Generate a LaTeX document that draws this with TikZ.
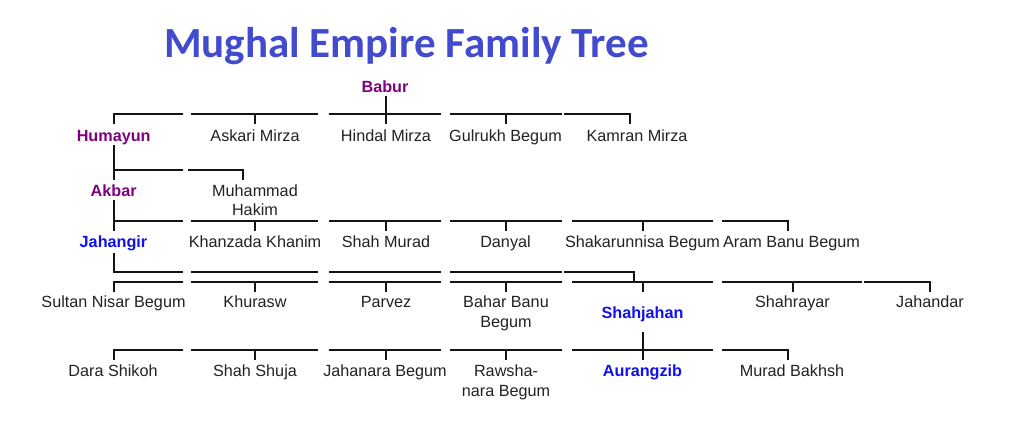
\documentclass[tikz,border=0pt]{standalone}
\usepackage{fontspec}
\setmainfont{Liberation Sans}
\newfontfamily\titlefont{Carlito}
\definecolor{titleblue}{RGB}{66,74,206}
\definecolor{royal}{RGB}{128,0,128}
\definecolor{heir}{RGB}{16,16,240}
\definecolor{txt}{RGB}{34,34,34}
\tikzset{
  ln/.style={line width=2pt, draw=black!92, line cap=butt, line join=miter},
  nm/.style={font=\fontsize{16.2}{19.7}\selectfont, text=txt, inner sep=0pt, anchor=base},
  royalnm/.style={nm, font=\fontsize{16.2}{19.7}\selectfont\bfseries, text=royal},
  heirnm/.style={nm, font=\fontsize{16.2}{19.7}\selectfont\bfseries, text=heir},
}
\begin{document}
\begin{tikzpicture}[x=1pt,y=-1pt]
\useasboundingbox (0,0) rectangle (1024,420);
\fill[white] (0,0) rectangle (1024,420);
% title
\node[inner sep=0pt, anchor=base, text=titleblue, font=\titlefont\bfseries\fontsize{43}{48}\selectfont] (title) at (406.5,57) {Mughal Empire Family Tree};
% names (multi-line nodes: base = baseline of last line)
\node[royalnm] (babur) at (385,92) {Babur};
\node[royalnm] (humayun) at (113.7,141) {Humayun};
\node[nm] (askari) at (255,141) {Askari Mirza};
\node[nm] (hindal) at (386,141) {Hindal Mirza};
\node[nm] (gulrukh) at (505.5,141) {Gulrukh Begum};
\node[nm] (kamran) at (637,141) {Kamran Mirza};
\node[royalnm] (akbar) at (113.7,196) {Akbar};
\node[nm, align=center] (hakim) at (255,215.7) {Muhammad\\Hakim};
\node[heirnm] (jahangir) at (113.5,247) {Jahangir};
\node[nm] (khanzada) at (255,247) {Khanzada Khanim};
\node[nm] (murad) at (386,247) {Shah Murad};
\node[nm] (danyal) at (505.5,247) {Danyal};
\node[nm] (shakar) at (642.5,247) {Shakarunnisa Begum};
\node[nm] (aram) at (791.5,247) {Aram Banu Begum};
\node[nm] (sultan) at (113.5,307.7) {Sultan Nisar Begum};
\node[nm] (khurasw) at (255,307.7) {Khurasw};
\node[nm] (parvez) at (386,307.7) {Parvez};
\node[nm, align=center] (bahar) at (506,327.4) {Bahar Banu\\Begum};
\node[heirnm] (shahjahan) at (642.5,318) {Shahjahan};
\node[nm] (shahrayar) at (792.5,307.7) {Shahrayar};
\node[nm] (jahandar) at (930,307.7) {Jahandar};
\node[nm] (dara) at (113,376.7) {Dara Shikoh};
\node[nm] (shuja) at (255,376.7) {Shah Shuja};
\node[nm] (jahanara) at (385,376.7) {Jahanara Begum};
\node[nm, align=center] (rawsha) at (506,396.4) {Rawsha-\\nara Begum};
\node[heirnm] (aurangzib) at (642.5,376.7) {Aurangzib};
\node[nm] (bakhsh) at (792,376.7) {Murad Bakhsh};
% row 1 (children of Babur)
\draw[ln] (386,96) -- (386,124);
\draw[ln] (114,124) -- (114,114) -- (183,114);
\draw[ln] (191,114) -- (318,114) (255,114) -- (255,124);
\draw[ln] (329,114) -- (441,114);
\draw[ln] (450,114) -- (562,114) (506,114) -- (506,124);
\draw[ln] (564,114) -- (630,114) -- (630,124);
% row 2 (children of Humayun)
\draw[ln] (114,145) -- (114,180);
\draw[ln] (114,170) -- (183,170);
\draw[ln] (188,170) -- (243,170) -- (243,180);
% row 3 (children of Akbar)
\draw[ln] (114,200) -- (114,231);
\draw[ln] (114,221) -- (183,221);
\draw[ln] (191,221) -- (318,221) (255,221) -- (255,231);
\draw[ln] (329,221) -- (441,221) (386,221) -- (386,231);
\draw[ln] (450,221) -- (562,221) (506,221) -- (506,231);
\draw[ln] (572,221) -- (713,221) (643,221) -- (643,231);
\draw[ln] (722,221) -- (788,221) -- (788,231);
% row 4 upper (from Jahangir)
\draw[ln] (114,253) -- (114,272) -- (183,272);
\draw[ln] (191,272) -- (318,272);
\draw[ln] (329,272) -- (441,272);
\draw[ln] (450,272) -- (562,272);
\draw[ln] (564,272) -- (634,272) -- (634,282);
% row 4 lower (children of Jahangir)
\draw[ln] (114,292) -- (114,282) -- (183,282);
\draw[ln] (191,282) -- (318,282) (255,282) -- (255,292);
\draw[ln] (329,282) -- (441,282) (386,282) -- (386,292);
\draw[ln] (450,282) -- (562,282) (506,282) -- (506,292);
\draw[ln] (572,282) -- (713,282) (643,282) -- (643,292);
\draw[ln] (722,282) -- (862,282) (793,282) -- (793,292);
\draw[ln] (864,282) -- (930,282) -- (930,292);
% row 5 (children of Shahjahan)
\draw[ln] (643,332) -- (643,360);
\draw[ln] (114,360) -- (114,350) -- (183,350);
\draw[ln] (191,350) -- (318,350) (255,350) -- (255,360);
\draw[ln] (329,350) -- (441,350) (386,350) -- (386,360);
\draw[ln] (450,350) -- (562,350) (506,350) -- (506,360);
\draw[ln] (572,350) -- (713,350);
\draw[ln] (722,350) -- (788,350) -- (788,360);
\end{tikzpicture}
\end{document}
